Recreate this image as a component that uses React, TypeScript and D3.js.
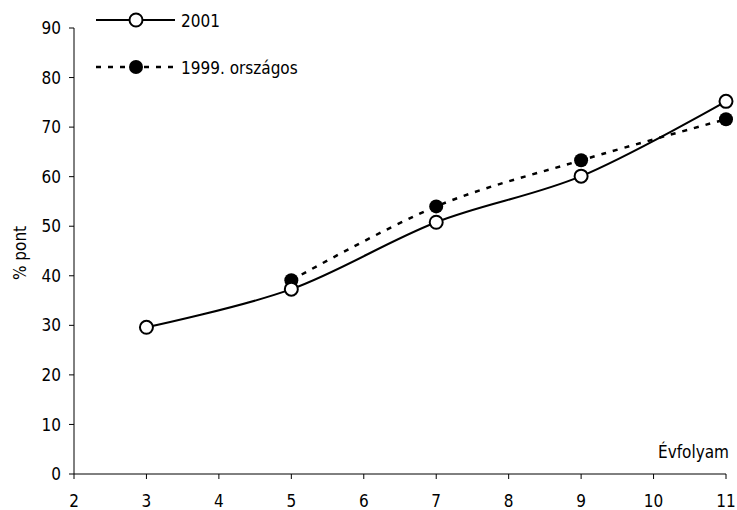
import React from "react";
import * as d3 from "d3";

const grades2001 = [3, 5, 7, 9, 11];
const values2001 = [29.6, 37.3, 50.8, 60.1, 75.2];
const grades1999 = [5, 7, 9, 11];
const values1999 = [39.1, 54.0, 63.3, 71.6];
const xTicks = [2, 3, 4, 5, 6, 7, 8, 9, 10, 11];
const yTicks = [0, 10, 20, 30, 40, 50, 60, 70, 80, 90];
const legendLabels = ["2001", "1999. országos"];

const W = 737, H = 510;
const left = 74, right = 726, top = 28, bottom = 474;
const FONT = "'DejaVu Sans Condensed', 'DejaVu Sans', sans-serif";
const FS = 17;

export default function App() {
  const x = d3.scaleLinear().domain([2, 11]).range([left, right]);
  const y = d3.scaleLinear().domain([0, 90]).range([bottom, top]);
  const line = d3
    .line<[number, number]>()
    .x((d) => x(d[0]))
    .y((d) => y(d[1]))
    .curve(d3.curveCatmullRom.alpha(0));
  const d2001 = grades2001.map((g, i) => [g, values2001[i]] as [number, number]);
  const d1999 = grades1999.map((g, i) => [g, values1999[i]] as [number, number]);
  return (
    <svg width={W} height={H} style={{ position: "absolute", left: 0, top: 0, background: "#fff" }} fontFamily={FONT}>
      {/* axes */}
      <line x1={left} x2={left} y1={top} y2={bottom} stroke="#000" strokeWidth={1} />
      <line x1={left} x2={right} y1={bottom} y2={bottom} stroke="#000" strokeWidth={1} />
      {yTicks.map((t) => (
        <g key={"y" + t}>
          <line x1={left - 5} x2={left} y1={y(t)} y2={y(t)} stroke="#000" />
          <text x={left - 13} y={y(t)} dy="0.36em" textAnchor="end" fontSize={FS}>{t}</text>
        </g>
      ))}
      {xTicks.map((t) => (
        <g key={"x" + t}>
          <line x1={x(t)} x2={x(t)} y1={bottom} y2={bottom + 5} stroke="#000" />
          <text x={x(t)} y={bottom + 33} textAnchor="middle" fontSize={FS}>{t}</text>
        </g>
      ))}
      <text transform={`translate(26,${(top + bottom) / 2 + 2}) rotate(-90)`} textAnchor="middle" fontSize={FS}>% pont</text>
      <text x={729} y={458} textAnchor="end" fontSize={FS}>Évfolyam</text>

      {/* series */}
      <path d={line(d1999) || ""} fill="none" stroke="#000" strokeWidth={2.5} strokeDasharray="5,7" />
      <path d={line(d2001) || ""} fill="none" stroke="#000" strokeWidth={2} />
      {d1999.map((d, i) => (
        <circle key={"b" + i} cx={x(d[0])} cy={y(d[1])} r={7} fill="#000" />
      ))}
      {d2001.map((d, i) => (
        <circle key={"a" + i} cx={x(d[0])} cy={y(d[1])} r={6.5} fill="#fff" stroke="#000" strokeWidth={2} />
      ))}

      {/* legend */}
      <line x1={96} x2={175} y1={20} y2={20} stroke="#000" strokeWidth={2} />
      <circle cx={136} cy={20} r={6.5} fill="#fff" stroke="#000" strokeWidth={2} />
      <text x={181} y={21} dy="0.36em" fontSize={FS}>{legendLabels[0]}</text>
      <line x1={96} x2={175} y1={67} y2={67} stroke="#000" strokeWidth={2.5} strokeDasharray="5,7" />
      <circle cx={136} cy={67} r={7} fill="#000" />
      <text x={181} y={68} dy="0.36em" fontSize={FS}>{legendLabels[1]}</text>
    </svg>
  );
}
